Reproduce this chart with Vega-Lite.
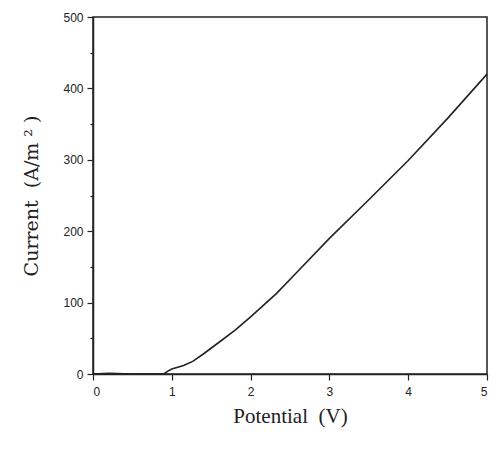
{
  "$schema": "https://vega.github.io/schema/vega-lite/v6.json",
  "width": 394,
  "height": 357,
  "autosize": "none",
  "padding": {"left": 93, "top": 17, "right": 3, "bottom": 75},
  "background": "white",
  "config": {
    "view": {"stroke": "#222", "strokeWidth": 1.5},
    "axis": {
      "domainColor": "#222", "domainWidth": 1.5, "tickColor": "#222", "tickWidth": 1.2,
      "labelFont": "Liberation Sans", "labelFontSize": 12, "labelColor": "#222",
      "titleFontWeight": "normal", "titleColor": "#222",
      "grid": false
    }
  },
  "data": {"values": [
    {"v": 0, "i": 0}, {"v": 0.2, "i": 1}, {"v": 0.5, "i": 0}, {"v": 0.9, "i": 0},
    {"v": 0.95, "i": 4}, {"v": 1.0, "i": 7}, {"v": 1.15, "i": 12}, {"v": 1.27, "i": 18},
    {"v": 1.4, "i": 28}, {"v": 1.57, "i": 42}, {"v": 1.8, "i": 61}, {"v": 2.0, "i": 80},
    {"v": 2.33, "i": 113}, {"v": 2.6, "i": 144}, {"v": 3.0, "i": 190}, {"v": 3.5, "i": 244},
    {"v": 4.0, "i": 299}, {"v": 4.5, "i": 358}, {"v": 5.0, "i": 420}
  ]},
  "mark": {"type": "line", "color": "#222", "strokeWidth": 1.6},
  "encoding": {
    "x": {
      "field": "v", "type": "quantitative", "title": "Potential\u00a0\u00a0(V)",
      "scale": {"domain": [0, 5], "nice": false},
      "axis": {
        "values": [0, 0.5, 1, 1.5, 2, 2.5, 3, 3.5, 4, 4.5, 5],
        "format": "d",
        "labelExpr": "datum.value % 1 === 0 ? datum.label : ''",
        "tickSize": {"condition": {"test": "datum.value % 1 === 0", "value": 6}, "value": 3},
        "labelPadding": 6, "titlePadding": 8,
        "titleFont": "Liberation Serif", "titleFontSize": 21
      }
    },
    "y": {
      "field": "i", "type": "quantitative", "title": "Current\u00a0\u00a0(A/m\u00a0²\u00a0)",
      "scale": {"domain": [0, 500], "nice": false},
      "axis": {
        "values": [0, 50, 100, 150, 200, 250, 300, 350, 400, 450, 500],
        "labelExpr": "datum.value % 100 === 0 ? datum.label : ''",
        "tickSize": {"condition": {"test": "datum.value % 100 === 0", "value": 6}, "value": 3},
        "labelPadding": 4, "titlePadding": 21,
        "titleFont": "DejaVu Serif", "titleFontSize": 19
      }
    }
  }
}
